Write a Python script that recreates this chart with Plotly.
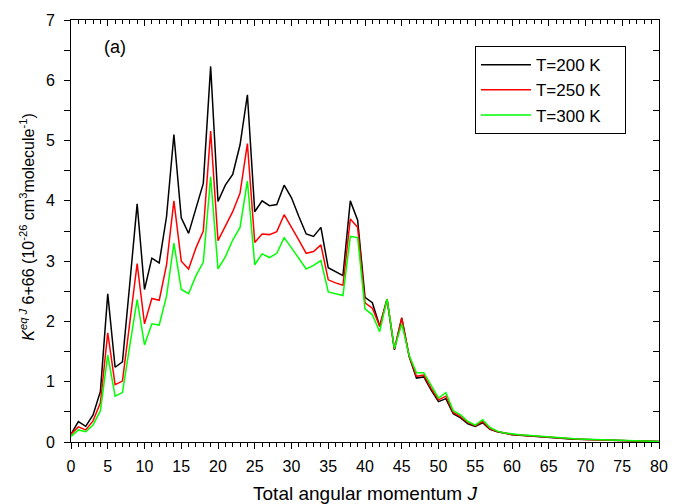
import plotly.graph_objects as go

J = list(range(0, 81))

k_200 = [0.13, 0.34, 0.26, 0.45, 0.84, 2.46, 1.24, 1.33, 2.63, 3.95,
         2.53, 3.05, 2.97, 3.74, 5.10, 3.72, 3.46, 3.88, 4.29, 6.23,
         3.99, 4.26, 4.44, 4.93, 5.76, 3.82, 4.00, 3.92, 3.94, 4.26,
         4.05, 3.74, 3.45, 3.41, 3.56, 2.89, 2.83, 2.76, 4.00, 3.68,
         2.40, 2.31, 1.92, 2.37, 1.53, 2.06, 1.42, 1.06, 1.08, 0.86,
         0.67, 0.72, 0.47, 0.40, 0.30, 0.26, 0.32, 0.21, 0.17, 0.14,
         0.12, 0.11, 0.10, 0.09, 0.08, 0.07, 0.065, 0.06, 0.05, 0.045,
         0.04, 0.035, 0.03, 0.03, 0.025, 0.02, 0.02, 0.015, 0.015, 0.01, 0.01]

k_250 = [0.13, 0.25, 0.20, 0.35, 0.65, 1.81, 0.95, 1.01, 1.98, 2.96,
         1.96, 2.38, 2.35, 2.94, 4.00, 3.00, 2.87, 3.22, 3.50, 5.16,
         3.34, 3.57, 3.82, 4.13, 4.95, 3.31, 3.45, 3.44, 3.49, 3.77,
         3.57, 3.35, 3.13, 3.16, 3.27, 2.69, 2.64, 2.60, 3.70, 3.56,
         2.31, 2.22, 1.92, 2.37, 1.54, 2.06, 1.43, 1.09, 1.11, 0.89,
         0.70, 0.76, 0.49, 0.42, 0.32, 0.27, 0.34, 0.22, 0.175, 0.145,
         0.125, 0.115, 0.105, 0.095, 0.085, 0.075, 0.068, 0.062, 0.053, 0.047,
         0.042, 0.037, 0.032, 0.03, 0.026, 0.022, 0.02, 0.016, 0.015, 0.011, 0.01]

k_300 = [0.09, 0.20, 0.17, 0.28, 0.52, 1.44, 0.76, 0.82, 1.60, 2.36,
         1.61, 1.96, 1.94, 2.42, 3.30, 2.53, 2.46, 2.76, 2.98, 4.40,
         2.87, 3.07, 3.35, 3.56, 4.33, 2.94, 3.12, 3.06, 3.13, 3.39,
         3.22, 3.04, 2.87, 2.93, 3.01, 2.49, 2.46, 2.43, 3.41, 3.39,
         2.21, 2.11, 1.83, 2.37, 1.55, 1.96, 1.44, 1.15, 1.15, 0.93,
         0.73, 0.82, 0.52, 0.45, 0.34, 0.28, 0.37, 0.24, 0.18, 0.15,
         0.13, 0.12, 0.11, 0.10, 0.09, 0.08, 0.07, 0.065, 0.055, 0.05,
         0.045, 0.04, 0.035, 0.03, 0.028, 0.024, 0.021, 0.018, 0.016, 0.012, 0.01]

series = [("T=200 K\u00a0\u00a0\u00a0\u00a0", k_200, "#000000"),
          ("T=250 K\u00a0\u00a0\u00a0\u00a0", k_250, "#ff0000"),
          ("T=300 K\u00a0\u00a0\u00a0\u00a0", k_300, "#00ff00")]

y_title = "<i>K</i><sup><i>eq J</i></sup> 6+66 (10<sup>-26</sup> cm<sup>3</sup>molecule<sup>-1</sup>)"
x_title = "Total angular momentum <i>J</i>"

FONT = "Liberation Sans, Arial, sans-serif"

fig = go.Figure()
for name, vals, col in series:
    fig.add_trace(go.Scatter(x=J, y=vals, mode="lines", name=name,
                             line=dict(color=col, width=1.5)))

# invisible trace to activate the mirrored top/right axes
fig.add_trace(go.Scatter(x=[0], y=[0], xaxis="x2", yaxis="y2", mode="markers",
                         marker=dict(opacity=0), showlegend=False, hoverinfo="skip"))

fig.update_layout(
    width=682, height=504,
    margin=dict(l=71, r=23, t=20, b=62),
    paper_bgcolor="white", plot_bgcolor="white",
    font=dict(family=FONT, size=16, color="black"),
    showlegend=True,
    legend=dict(x=0.687, y=0.938, xanchor="left", yanchor="top",
                bordercolor="black", borderwidth=1, bgcolor="white",
                font=dict(size=17), tracegroupgap=0, itemwidth=50),
    xaxis=dict(range=[0, 80], tick0=0, dtick=5, ticks="outside", ticklen=6,
               tickwidth=1, tickcolor="black", showline=True, linecolor="black",
               linewidth=1, showgrid=False, zeroline=False, ticklabelstandoff=4,
               tickfont=dict(size=16), automargin=False,
               minor=dict(dtick=1, ticks="outside", ticklen=4, tickcolor="black", showgrid=False),
               title=dict(text=x_title, font=dict(size=19))),
    yaxis=dict(range=[0, 7], tick0=0, dtick=1, ticks="outside", ticklen=6,
               tickwidth=1, tickcolor="black", showline=True, linecolor="black",
               linewidth=1, showgrid=False, zeroline=False, ticklabelstandoff=6,
               tickfont=dict(size=16), automargin=False,
               minor=dict(dtick=0.5, ticks="outside", ticklen=6, tickcolor="black", showgrid=False)),
    xaxis2=dict(overlaying="x", side="top", matches="x", range=[0, 80], tick0=0, dtick=5,
                ticks="inside", ticklen=6, tickcolor="black", showticklabels=False,
                showline=True, linecolor="black", linewidth=1, showgrid=False, zeroline=False,
                minor=dict(dtick=1, ticks="inside", ticklen=4, tickcolor="black", showgrid=False)),
    yaxis2=dict(overlaying="y", side="right", matches="y", range=[0, 7], tick0=0, dtick=1,
                ticks="inside", ticklen=6, tickcolor="black", showticklabels=False,
                showline=True, linecolor="black", linewidth=1, showgrid=False, zeroline=False,
                minor=dict(dtick=0.5, ticks="inside", ticklen=6, tickcolor="black", showgrid=False)),
    annotations=[
        dict(text="(a)", x=0.053, y=0.936, xref="paper", yref="paper",
             xanchor="left", yanchor="middle", showarrow=False,
             font=dict(size=18, color="black")),
        dict(text=y_title, x=-0.075, y=0.51, xref="paper", yref="paper",
             xanchor="center", yanchor="middle", textangle=-90, showarrow=False,
             font=dict(size=16, color="black")),
    ],
)

fig.write_html("out.html")
